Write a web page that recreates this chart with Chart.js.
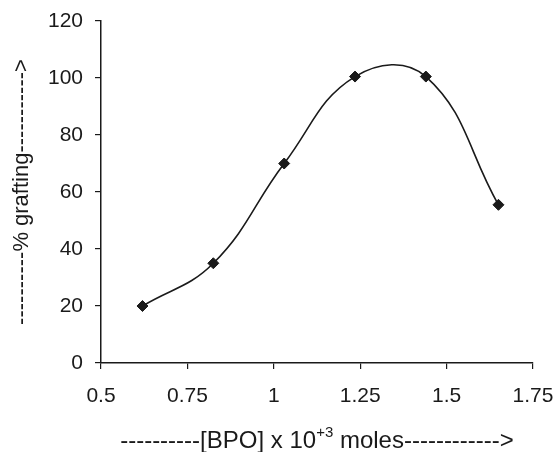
<!DOCTYPE html>
<html>
<head>
<meta charset="utf-8">
<script src="https://cdn.jsdelivr.net/npm/chart.js@4.4.1/dist/chart.umd.min.js"></script>
<style>
html, body { margin: 0; padding: 0; background: #fff; }
#wrap { width: 558px; height: 452px; position: relative; }
</style>
</head>
<body>
<div id="wrap"><canvas id="graft"></canvas></div>
<script>
    // [BPO] x 10^3 moles vs % grafting
    const bpoConc = [0.62, 0.825, 1.03, 1.235, 1.44, 1.65];
    const grafting = [20, 35, 70, 100.5, 100.5, 55.5];
    const xTicks = [0.5, 0.75, 1, 1.25, 1.5, 1.75];
    const xTickLabels = ['0.5', '0.75', '1', '1.25', '1.5', '1.75'];
    const yTicks = [0, 20, 40, 60, 80, 100, 120];

    const ink = '#1a1a1a';
    const fam = "'Liberation Sans', Arial, sans-serif";
    const tickFont = { family: fam, size: 21 };

    // x title has a superscript, so draw it by hand
    const xTitle = {
        id: 'xTitle',
        afterDraw(chart) {
            const ctx = chart.ctx;
            const area = chart.chartArea;
            const parts = [
                { t: '----------[BPO] x 10', s: 24, dy: 0 },
                { t: '+3', s: 15, dy: -11 },
                { t: ' moles------------>', s: 24, dy: 0 }
            ];
            ctx.save();
            ctx.fillStyle = ink;
            ctx.textBaseline = 'alphabetic';
            let total = 0;
            parts.forEach(p => {
                ctx.font = p.s + 'px ' + fam;
                p.w = ctx.measureText(p.t).width;
                total += p.w;
            });
            let x = (area.left + area.right) / 2 - total / 2;
            const base = 448;
            parts.forEach(p => {
                ctx.font = p.s + 'px ' + fam;
                ctx.fillText(p.t, x, base + p.dy);
                x += p.w;
            });
            ctx.restore();
        }
    };

    new Chart(document.getElementById('graft'), {
        type: 'scatter',
        data: {
            datasets: [{
                data: bpoConc.map((x, i) => ({ x: x, y: grafting[i] })),
                showLine: true,
                tension: 0.42,
                borderColor: ink,
                borderWidth: 1.6,
                pointStyle: 'rectRot',
                pointRadius: 5.5,
                pointBackgroundColor: ink,
                pointBorderColor: ink,
                pointBorderWidth: 1,
                clip: false
            }]
        },
        options: {
            responsive: true,
            maintainAspectRatio: false,
            animation: false,
            layout: { padding: { top: 21, right: 25, left: 0, bottom: 0 } },
            plugins: { legend: { display: false }, tooltip: { enabled: false } },
            scales: {
                x: {
                    type: 'linear',
                    min: 0.5,
                    max: 1.75,
                    afterBuildTicks: s => { s.ticks = xTicks.map(v => ({ value: v })); },
                    afterFit: s => { s.height = 89; s.paddingLeft = 0; s.paddingRight = 0; },
                    ticks: {
                        color: ink, font: tickFont, padding: 15, maxRotation: 0,
                        callback: (v, i) => xTickLabels[i]
                    },
                    grid: { drawOnChartArea: false, drawTicks: true, tickLength: 6, color: ink, lineWidth: 1.2 },
                    border: { color: ink, width: 1.5 }
                },
                y: {
                    min: 0,
                    max: 120,
                    afterBuildTicks: s => { s.ticks = yTicks.map(v => ({ value: v })); },
                    afterFit: s => { s.width = 101; s.paddingTop = 0; s.paddingBottom = 0; },
                    ticks: { color: ink, font: tickFont, padding: 12 },
                    grid: { drawOnChartArea: false, drawTicks: true, tickLength: 6, color: ink, lineWidth: 1.2 },
                    border: { color: ink, width: 1.5 },
                    title: {
                        display: true,
                        text: '----------% grafting----------->',
                        color: ink,
                        font: { family: fam, size: 22 },
                        padding: { top: 9, bottom: 0 }
                    }
                }
            }
        },
        plugins: [xTitle]
    });
</script>
</body>
</html>
